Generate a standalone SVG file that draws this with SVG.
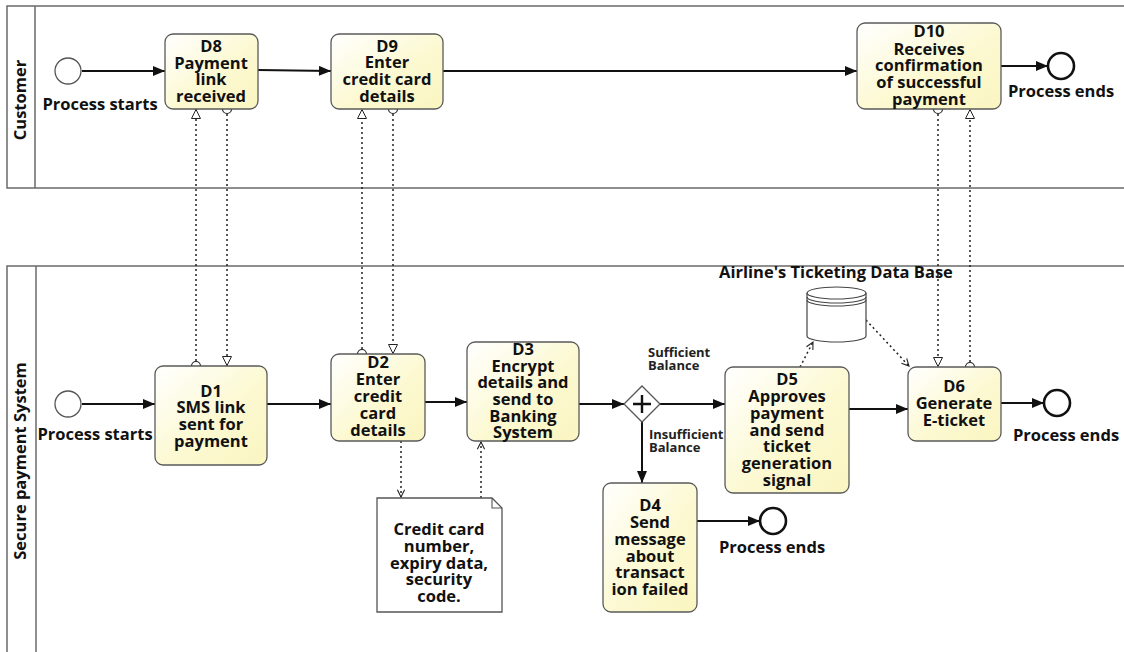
<svg xmlns="http://www.w3.org/2000/svg" width="1124" height="652" viewBox="0 0 1124 652">
<style>
.lane{fill:none;stroke:#6a6a6a;stroke-width:1.5}
.task{stroke:#5a5a5a;stroke-width:1.3;fill:url(#tg)}
.t{font-family:"Open Sans","DejaVu Sans",sans-serif;font-weight:bold;font-size:16.5px;fill:#111;text-anchor:middle}
.s{font-family:"Open Sans","DejaVu Sans",sans-serif;font-weight:bold;font-size:13px;fill:#222}
.seq{fill:none;stroke:#111;stroke-width:2;marker-end:url(#seqA)}
.msg{fill:none;stroke:#222;stroke-width:1.5;stroke-dasharray:2 3;marker-end:url(#msgA)}
.asc{fill:none;stroke:#222;stroke-width:1.5;stroke-dasharray:2 3;marker-end:url(#ascA)}
.mc{fill:#fff;stroke:#222;stroke-width:1.2}
.ev{fill:#fff;stroke:#555;stroke-width:1.3}
.end{fill:#fff;stroke:#111;stroke-width:2.6}
</style>
<defs>
<linearGradient id="tg" x1="0" y1="0" x2="1" y2="1">
<stop offset="0" stop-color="#ffffff"/>
<stop offset="0.55" stop-color="#fcf9d2"/>
<stop offset="1" stop-color="#faf5c0"/>
</linearGradient>
<marker id="seqA" viewBox="0 0 12 10" refX="12" refY="5" markerWidth="13" markerHeight="10" markerUnits="userSpaceOnUse" orient="auto"><path d="M0,0 L12,5 L0,10 Z" fill="#111"/></marker>
<marker id="msgA" viewBox="0 0 10 10" refX="10" refY="5" markerWidth="10" markerHeight="10" markerUnits="userSpaceOnUse" orient="auto"><path d="M0.5,0.5 L9.5,5 L0.5,9.5 Z" fill="#fff" stroke="#222" stroke-width="1"/></marker>
<marker id="ascA" viewBox="0 0 10 10" refX="9" refY="5" markerWidth="9" markerHeight="9" markerUnits="userSpaceOnUse" orient="auto"><path d="M1,1 L9,5 L1,9" fill="none" stroke="#222" stroke-width="1.2"/></marker>
</defs>
<rect width="1124" height="652" fill="#fff"/>

<g id="lane-customer">
<rect class="lane" x="7" y="6" width="1130" height="182"/>
<line class="lane" x1="35" y1="6" x2="35" y2="188"/>
<text class="t" transform="translate(26,100) rotate(-90)">Customer</text>
</g>
<g id="lane-system">
<rect class="lane" x="7" y="266" width="1130" height="400"/>
<line class="lane" x1="36" y1="266" x2="36" y2="652"/>
<text class="t" transform="translate(26,461) rotate(-90)">Secure payment System</text>
</g>

<g id="connectors">
<line class="seq" x1="82" y1="71" x2="165" y2="71"/>
<line class="seq" x1="258" y1="70" x2="331" y2="71"/>
<line class="seq" x1="443" y1="71" x2="857" y2="71"/>
<line class="seq" x1="1001" y1="66" x2="1048" y2="66"/>
<line class="seq" x1="82" y1="404" x2="155" y2="404"/>
<line class="seq" x1="267" y1="404" x2="331" y2="404"/>
<line class="seq" x1="425" y1="402" x2="467" y2="402"/>
<line class="seq" x1="579" y1="404" x2="624" y2="404"/>
<line class="seq" x1="660" y1="404" x2="725" y2="404"/>
<line class="seq" x1="642" y1="422" x2="642" y2="483"/>
<line class="seq" x1="697" y1="521" x2="760" y2="521"/>
<line class="seq" x1="849" y1="409" x2="908" y2="409"/>
<line class="seq" x1="1001" y1="403" x2="1044" y2="403"/>
<line class="msg" x1="196" y1="361" x2="196" y2="109"/>
<line class="msg" x1="227" y1="114" x2="227" y2="366"/>
<line class="msg" x1="362" y1="349" x2="362" y2="109"/>
<line class="msg" x1="393" y1="114" x2="393" y2="354"/>
<line class="msg" x1="938" y1="114" x2="938" y2="367"/>
<line class="msg" x1="970" y1="362" x2="970" y2="109"/>
<circle class="mc" cx="196" cy="366" r="4.5"/>
<circle class="mc" cx="227" cy="109" r="4.5"/>
<circle class="mc" cx="362" cy="354" r="4.5"/>
<circle class="mc" cx="393" cy="109" r="4.5"/>
<circle class="mc" cx="938" cy="109" r="4.5"/>
<circle class="mc" cx="970" cy="367" r="4.5"/>
<line class="asc" x1="401" y1="441" x2="401" y2="497"/>
<line class="asc" x1="481" y1="498" x2="481" y2="442"/>
<line class="asc" x1="800" y1="367" x2="813" y2="342"/>
<line class="asc" x1="866" y1="320" x2="909" y2="366"/>
</g>

<g id="start-customer">
<circle class="ev" cx="68" cy="71" r="13"/>
<text class="t" x="100" y="110">Process starts</text>
</g>
<g id="D8">
<rect class="task" x="165" y="34" width="93" height="75" rx="8"/>
<text class="t" x="211" y="52">D8</text>
<text class="t" x="211" y="69">Payment</text>
<text class="t" x="211" y="85">link</text>
<text class="t" x="211" y="102">received</text>
</g>
<g id="D9">
<rect class="task" x="331" y="34" width="112" height="75" rx="8"/>
<text class="t" x="387" y="52">D9</text>
<text class="t" x="387" y="68">Enter</text>
<text class="t" x="387" y="85">credit card</text>
<text class="t" x="387" y="102">details</text>
</g>
<g id="D10">
<rect class="task" x="857" y="23" width="144" height="86" rx="8"/>
<text class="t" x="929" y="37">D10</text>
<text class="t" x="929" y="55">Receives</text>
<text class="t" x="929" y="71">confirmation</text>
<text class="t" x="929" y="88">of successful</text>
<text class="t" x="929" y="105">payment</text>
</g>
<g id="end-customer">
<circle class="end" cx="1061" cy="66" r="13"/>
<text class="t" x="1061" y="97">Process ends</text>
</g>

<g id="start-system">
<circle class="ev" cx="68" cy="404" r="13"/>
<text class="t" x="95" y="440">Process starts</text>
</g>
<g id="D1">
<rect class="task" x="155" y="366" width="112" height="99" rx="8"/>
<text class="t" x="211" y="397">D1</text>
<text class="t" x="211" y="413">SMS link</text>
<text class="t" x="211" y="430">sent for</text>
<text class="t" x="211" y="447">payment</text>
</g>
<g id="D2">
<rect class="task" x="331" y="354" width="94" height="87" rx="8"/>
<text class="t" x="378" y="368">D2</text>
<text class="t" x="378" y="385">Enter</text>
<text class="t" x="378" y="402">credit</text>
<text class="t" x="378" y="419">card</text>
<text class="t" x="378" y="436">details</text>
</g>
<g id="D3">
<rect class="task" x="467" y="342" width="112" height="99" rx="8"/>
<text class="t" x="523" y="355">D3</text>
<text class="t" x="523" y="372">Encrypt</text>
<text class="t" x="523" y="388">details and</text>
<text class="t" x="523" y="405">send to</text>
<text class="t" x="523" y="422">Banking</text>
<text class="t" x="523" y="438">System</text>
</g>
<g id="data-object">
<path d="M377,498 L492,498 L502,508 L502,612 L377,612 Z" fill="#fff" stroke="#555" stroke-width="1.3"/>
<path d="M492,498 L492,508 L502,508" fill="none" stroke="#555" stroke-width="1.1"/>
<text class="t" x="439" y="535">Credit card</text>
<text class="t" x="439" y="552">number,</text>
<text class="t" x="439" y="569">expiry data,</text>
<text class="t" x="439" y="585">security</text>
<text class="t" x="439" y="602">code.</text>
</g>
<g id="gateway">
<path d="M642,386 L660,404 L642,422 L624,404 Z" fill="#fff" stroke="#555" stroke-width="1.3"/>
<path d="M642,395 L642,413 M633,404 L651,404" stroke="#111" stroke-width="2.4"/>
<text class="s" x="648" y="357">Sufficient</text>
<text class="s" x="648" y="370">Balance</text>
<text class="s" x="649" y="439">Insufficient</text>
<text class="s" x="649" y="452">Balance</text>
</g>
<g id="D4">
<rect class="task" x="603" y="483" width="94" height="129" rx="8"/>
<text class="t" x="650" y="511">D4</text>
<text class="t" x="650" y="528">Send</text>
<text class="t" x="650" y="545">message</text>
<text class="t" x="650" y="562">about</text>
<text class="t" x="650" y="578">transact</text>
<text class="t" x="650" y="595">ion failed</text>
</g>
<g id="end-D4">
<circle class="end" cx="773" cy="521" r="13"/>
<text class="t" x="772" y="553">Process ends</text>
</g>
<g id="D5">
<rect class="task" x="725" y="367" width="124" height="126" rx="8"/>
<text class="t" x="787" y="385">D5</text>
<text class="t" x="787" y="402">Approves</text>
<text class="t" x="787" y="419">payment</text>
<text class="t" x="787" y="436">and send</text>
<text class="t" x="787" y="452">ticket</text>
<text class="t" x="787" y="469">generation</text>
<text class="t" x="787" y="486">signal</text>
</g>
<g id="database">
<path d="M807,293 L807,336 A29.5,6 0 0 0 866,336 L866,293" fill="#fff" stroke="#444" stroke-width="1.2"/>
<ellipse cx="836.5" cy="293" rx="29.5" ry="6" fill="#fff" stroke="#444" stroke-width="1.2"/>
<path d="M807,297 A29.5,6 0 0 0 866,297 M807,300 A29.5,6 0 0 0 866,300" fill="none" stroke="#444" stroke-width="1.1"/>
<text class="t" x="836" y="278">Airline's Ticketing Data Base</text>
</g>
<g id="D6">
<rect class="task" x="908" y="367" width="93" height="74" rx="8"/>
<text class="t" x="954" y="392">D6</text>
<text class="t" x="954" y="409">Generate</text>
<text class="t" x="954" y="426">E-ticket</text>
</g>
<g id="end-D6">
<circle class="end" cx="1057" cy="403" r="13"/>
<text class="t" x="1066" y="441">Process ends</text>
</g>
</svg>
